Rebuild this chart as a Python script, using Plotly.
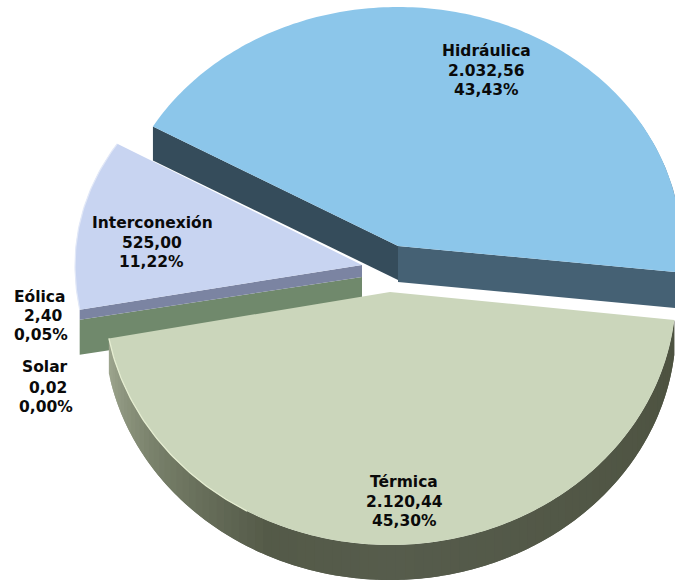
import numpy as np
import plotly.graph_objects as go

# ---- data ----
categories = ["Hidráulica", "Térmica", "Solar", "Eólica", "Interconexión"]
values = [2032.56, 2120.44, 0.02, 2.40, 525.00]
value_labels = ["2.032,56", "2.120,44", "0,02", "2,40", "525,00"]
percent_labels = ["43,43%", "45,30%", "0,00%", "0,05%", "11,22%"]

# ---- drawing geometry (ellipse seen in perspective, exploded slices) ----
W, H = 675, 581
START = 150.0
SLICE = {
    "Hidráulica": dict(c=(398, 246), up=239, down=239, rx=283),
    "Térmica": dict(c=(390, 292), up=253, down=253, rx=286),
    "Interconexión": dict(c=(362, 265), up=232, down=248, rx=287),
}
DEPTH = 35
INTER_TILT = -1.5

total = sum(values)
angles = {}
a = START
for n, v in zip(categories, values):
    angles[n] = (a, a - v / total * 360)
    a -= v / total * 360


def rim(name, a0, a1, n=160, dy=0):
    s = SLICE[name]
    t = np.radians(np.linspace(a0, a1, n))
    b = np.where(np.sin(t) > 0, s["up"], s["down"])
    return s["c"][0] + s["rx"] * np.cos(t), s["c"][1] - b * np.sin(t) + dy


fig = go.Figure()


def poly(x, y, color):
    fig.add_trace(go.Scatter(x=list(x), y=list(y), mode="none", fill="toself", fillcolor=color,
                             hoverinfo="skip", showlegend=False))


def sector(name, color, a0=None, a1=None):
    if a0 is None:
        a0, a1 = angles[name]
    x, y = rim(name, a0, a1)
    c = SLICE[name]["c"]
    poly([c[0], *x, c[0]], [c[1], *y, c[1]], color)


def cut_wall(name, ang, depth, color):
    c = SLICE[name]["c"]
    x, y = rim(name, ang, ang, 1)
    poly([c[0], x[0], x[0], c[0], c[0]],
         [c[1], y[0], y[0] + depth, c[1] + depth, c[1]], color)


def mix(c0, c1, f):
    return "rgb(%d,%d,%d)" % tuple(round(p + (q - p) * f) for p, q in zip(c0, c1))


# ---- Interconexión with its edge walls ----
ai_low, ai_high = angles["Interconexión"]          # clockwise: low edge first
ai_high += INTER_TILT
ex, ey = rim("Interconexión", ai_low, ai_low, 1)
cx, cy = SLICE["Interconexión"]["c"]
STRIP_L, STRIP_R = 10, 12
poly([cx, ex[0], ex[0], cx, cx],
     [cy + STRIP_R, ey[0] + STRIP_L, ey[0] + STRIP_L + DEPTH, cy + STRIP_R + DEPTH, cy + STRIP_R], "#70896c")
poly([cx, ex[0], ex[0], cx, cx], [cy, ey[0], ey[0] + STRIP_L, cy + STRIP_R, cy], "#7b84a2")
sector("Interconexión", "#c8d4f1", ai_low, ai_high)
x, y = rim("Interconexión", ai_low, ai_high, 60)
fig.add_trace(go.Scatter(x=x, y=y, mode="lines", line=dict(color="#e2e8f7", width=1.2),
                         hoverinfo="skip", showlegend=False))

# ---- Térmica: outer wall with shading, then its top ----
at0, at1 = angles["Térmica"]
stops = [(at1, (158, 166, 143)), (-145, (120, 128, 106)), (-115, (84, 90, 72)),
         (-90, (86, 92, 76)), (at0, (77, 82, 64))]
edges = np.linspace(at1, at0, 90)
step = edges[1] - edges[0]
for e0, e1 in zip(edges[:-1], edges[1:]):
    m = (e0 + e1) / 2
    for (p0, c0), (p1, c1) in zip(stops[:-1], stops[1:]):
        if p0 <= m <= p1:
            col = mix(c0, c1, (m - p0) / (p1 - p0))
    xt, yt = rim("Térmica", e0, min(e1 + step, at0), 6)
    poly([*xt, *xt[::-1], xt[0]], [*yt, *(yt[::-1] + DEPTH), yt[0]], col)
sector("Térmica", "#cbd6bb")
x, y = rim("Térmica", at1, -120, 60)
fig.add_trace(go.Scatter(x=x, y=y, mode="lines", line=dict(color="#e6eed2", width=1.3),
                         hoverinfo="skip", showlegend=False))

# ---- Hidráulica: two cut faces, then its top ----
ah0, ah1 = angles["Hidráulica"]
cut_wall("Hidráulica", ah1, 36, "#456174")
cut_wall("Hidráulica", ah0, 34, "#354c5b")
x, y = rim("Hidráulica", 35, ah1, 40, dy=1.2)
fig.add_trace(go.Scatter(x=x, y=y, mode="lines", line=dict(color="#5f7f95", width=1),
                         hoverinfo="skip", showlegend=False))
sector("Hidráulica", "#8cc6ea")

# ---- labels: one text per printed line ----
label_xy = {
    "Hidráulica": [(486, 51), (486, 71), (486, 90)],
    "Térmica": [(404, 482), (404, 502), (404, 521)],
    "Solar": [(45, 367), (48, 388), (46, 407)],
    "Eólica": [(40, 297), (43, 316), (41, 335)],
    "Interconexión": [(152, 223), (152, 243), (151, 262)],
}
for n, vl, pl in zip(categories, value_labels, percent_labels):
    for txt, (tx, ty) in zip((n, vl, pl), label_xy[n]):
        fig.add_annotation(x=tx, y=ty, text=f"<b>{txt}</b>", showarrow=False,
                           font=dict(family="DejaVu Sans", size=15.5, color="#0a0a0a"))

fig.update_layout(
    width=W, height=H, margin=dict(l=0, r=0, t=0, b=0), paper_bgcolor="white", plot_bgcolor="white",
    showlegend=False,
    xaxis=dict(range=[0, W], visible=False, fixedrange=True),
    yaxis=dict(range=[H, 0], visible=False, fixedrange=True),
)
fig.write_html("out.html", post_script="document.body.style.margin='0';", config={"displayModeBar": False})
